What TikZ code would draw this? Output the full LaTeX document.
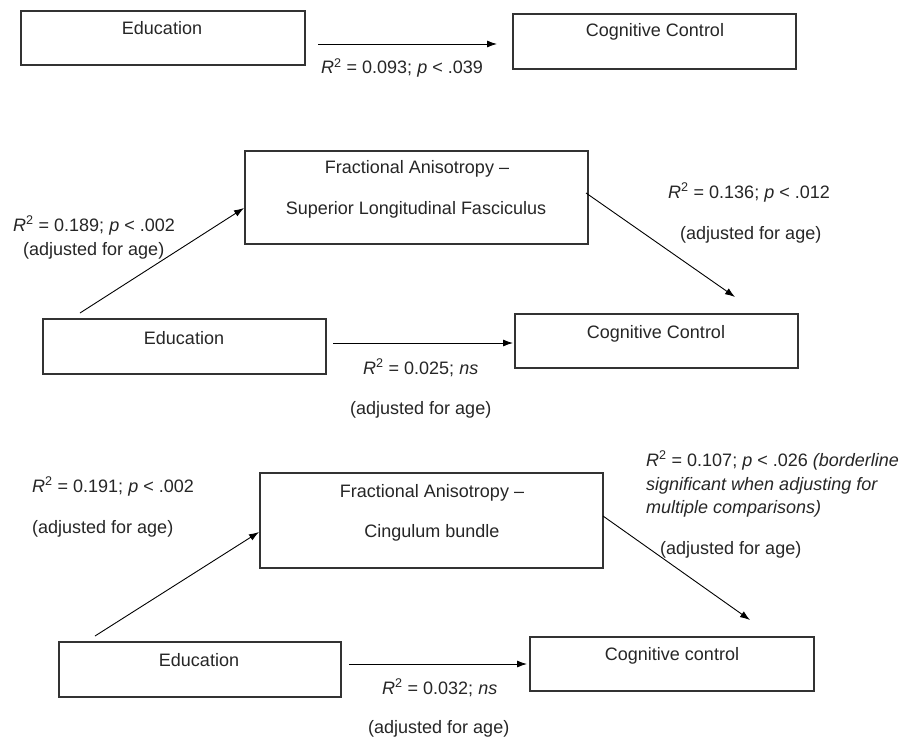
\documentclass[tikz,border=0pt]{standalone}
\usepackage{fontspec}
\setmainfont{Liberation Sans}
\usetikzlibrary{arrows.meta}
\tikzset{
  box/.style={draw=black!80, line width=1.2pt, inner sep=0pt},
  txt/.style={inner sep=0pt, font=\fontsize{18pt}{22pt}\selectfont, text=black!85},
  conn/.style={-{Latex[length=10pt,width=7pt]}, line width=0.9pt, black},
}
\newcommand{\Rsq}{\textit{R}\textsuperscript{2}}
\begin{document}
\begin{tikzpicture}[x=1pt,y=-1pt]
\useasboundingbox (0,0) rectangle (901,738);
\fill[white] (0,0) rectangle (901,738);
% ---------- Boxes ----------
\node[box, minimum width=284pt, minimum height=54pt] (b1) at (163,38) {};
\node[box, minimum width=283pt, minimum height=55pt] (b2) at (654.5,41.5) {};
\node[box, minimum width=343pt, minimum height=93pt] (b3) at (416.5,197.5) {};
\node[box, minimum width=283pt, minimum height=55pt] (b4) at (184.5,346.5) {};
\node[box, minimum width=283pt, minimum height=54pt] (b5) at (656.5,341) {};
\node[box, minimum width=343pt, minimum height=95pt] (b6) at (431.5,520.5) {};
\node[box, minimum width=282pt, minimum height=55pt] (b7) at (200,669.5) {};
\node[box, minimum width=284pt, minimum height=54pt] (b8) at (672,664) {};
% ---------- Box texts ----------
\node[txt, anchor=base] (t1) at (162,35) {Education};
\node[txt, anchor=base] (t2) at (655,37) {Cognitive Control};
\node[txt, anchor=base] (t3a) at (417,174) {Fractional Anisotropy –};
\node[txt, anchor=base] (t3b) at (416,214) {Superior Longitudinal Fasciculus};
\node[txt, anchor=base] (t4) at (184,344) {Education};
\node[txt, anchor=base] (t5) at (656,338) {Cognitive Control};
\node[txt, anchor=base] (t6a) at (432,497) {Fractional Anisotropy –};
\node[txt, anchor=base] (t6b) at (432,537) {Cingulum bundle};
\node[txt, anchor=base] (t7) at (199,666) {Education};
\node[txt, anchor=base] (t8) at (672,660) {Cognitive control};
% ---------- Arrow end points ----------
\coordinate (a1s) at (318,44);  \coordinate (a1e) at (497,44);
\coordinate (a2s) at (80,313);  \coordinate (a2e) at (244,208);
\coordinate (a3s) at (586,193); \coordinate (a3e) at (735,297);
\coordinate (a4s) at (333,343); \coordinate (a4e) at (513,343);
\coordinate (a5s) at (95,636);  \coordinate (a5e) at (259,532);
\coordinate (a6s) at (603,516); \coordinate (a6e) at (750,620);
\coordinate (a7s) at (349,664); \coordinate (a7e) at (527,664);
\draw[conn] (a1s) -- (a1e);
\draw[conn] (a2s) -- (a2e);
\draw[conn] (a3s) -- (a3e);
\draw[conn] (a4s) -- (a4e);
\draw[conn] (a5s) -- (a5e);
\draw[conn] (a6s) -- (a6e);
\draw[conn] (a7s) -- (a7e);
% ---------- Labels ----------
\node[txt, anchor=base west] (l1) at (321,74) {\Rsq{} = 0.093; \textit{p} < .039};
\node[txt, anchor=base west] (l2a) at (13,231) {\Rsq{} = 0.189; \textit{p} < .002};
\node[txt, anchor=base west] (l2b) at (23,255) {(adjusted for age)};
\node[txt, anchor=base west] (l3a) at (668,198) {\Rsq{} = 0.136; \textit{p} < .012};
\node[txt, anchor=base west] (l3b) at (680,239) {(adjusted for age)};
\node[txt, anchor=base west] (l4a) at (363,374) {\Rsq{} = 0.025; \textit{ns}};
\node[txt, anchor=base west] (l4b) at (350,414) {(adjusted for age)};
\node[txt, anchor=base west] (l5a) at (32,492) {\Rsq{} = 0.191; \textit{p} < .002};
\node[txt, anchor=base west] (l5b) at (32,533) {(adjusted for age)};
\node[txt, anchor=base west] (l6a) at (646,466) {\Rsq{} = 0.107; \textit{p} < .026 \textit{(borderline}};
\node[txt, anchor=base west] (l6b) at (646,490) {\textit{significant when adjusting for}};
\node[txt, anchor=base west] (l6c) at (646,513) {\textit{multiple comparisons)}};
\node[txt, anchor=base west] (l6d) at (660,554) {(adjusted for age)};
\node[txt, anchor=base west] (l7a) at (382,694) {\Rsq{} = 0.032; \textit{ns}};
\node[txt, anchor=base west] (l7b) at (368,733) {(adjusted for age)};
\end{tikzpicture}
\end{document}
